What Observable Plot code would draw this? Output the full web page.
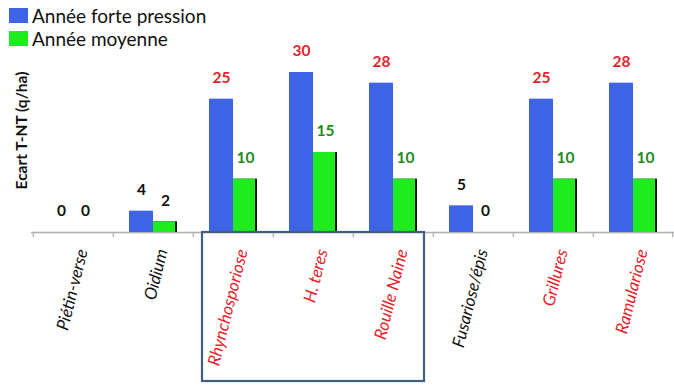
<!DOCTYPE html>
<html>
<head>
<meta charset="utf-8">
<script src="https://cdn.jsdelivr.net/npm/d3@7"></script>
<script src="https://cdn.jsdelivr.net/npm/@observablehq/plot@0.6"></script>
<style>
  html, body { margin: 0; padding: 0; background: #fff; }
  #wrap { position: relative; width: 674px; height: 388px; font-family: Lato, "Open Sans", sans-serif; }
  #legend { position: absolute; left: 0; top: 0; }
  .row { position: absolute; left: 9px; white-space: nowrap; font-size: 19px; color: #111; line-height: 19px; }
  .sw { position: absolute; left: 0; top: 0; width: 19px; height: 15px; }
  .lab { position: absolute; left: 23px; top: -2px; }
</style>
</head>
<body>
<div id="wrap">
  <div id="chart"></div>
  <div id="legend"></div>
</div>
<script>
const categories = ["Piétin-verse", "Oidium", "Rhynchosporiose", "H. teres", "Rouille Naine", "Fusariose/épis", "Grillures", "Ramulariose"];
const forte = [0, 4, 25, 30, 28, 5, 25, 28];
const moyenne = [0, 2, 10, 15, 10, 0, 10, 10];
const highlighted = [false, false, true, true, true, false, true, true];
const boxedFrom = "Rhynchosporiose";
const boxedTo = "Rouille Naine";
const seriesNames = ["Année forte pression", "Année moyenne"];

const BLUE = "#3d64e4";
const GREEN = "#1eec1e";
const RED = "#e5232b";
const DKGREEN = "#228b22";

const rows = categories.map((c, i) => ({cat: c, forte: forte[i], moyenne: moyenne[i], hl: highlighted[i]}));

const W = 674, H = 388, ML = 31, MR = 0, MT = 72, MB = 156;
const step = (W - ML - MR) / categories.length;

const boxMark = (index, scales, values, dims) => {
  const x = scales.x, y = scales.y;
  const x0 = x(boxedFrom) + 9;
  const x1 = x(boxedTo) + x.bandwidth() - 9;
  const y0 = y(0);
  const y1 = dims.height - 7;
  const r = document.createElementNS("http://www.w3.org/2000/svg", "rect");
  r.setAttribute("x", x0); r.setAttribute("y", y0);
  r.setAttribute("width", x1 - x0); r.setAttribute("height", y1 - y0);
  r.setAttribute("fill", "none"); r.setAttribute("stroke", "#41607f"); r.setAttribute("stroke-width", 2.2);
  return r;
};

const chart = Plot.plot({
  width: W, height: H,
  marginLeft: ML, marginRight: MR, marginTop: MT, marginBottom: MB,
  style: {fontFamily: "Lato, 'Open Sans', sans-serif", background: "white"},
  x: {type: "band", domain: categories, padding: 0, axis: null},
  y: {domain: [0, 30], axis: null},
  marks: [
    Plot.ruleY([0], {stroke: "#b0b0b0", strokeWidth: 1.5}),
    Plot.ruleX(categories, {x: d => d, y1: 0, y2: -1, dx: -step / 2, stroke: "#b0b0b0", strokeWidth: 1.2}),
    Plot.ruleX([categories[categories.length - 1]], {x: d => d, y1: 0, y2: -1, dx: step / 2 - 1, stroke: "#b0b0b0", strokeWidth: 1.2}),
    Plot.barY(rows, {x: "cat", y: "forte", fill: BLUE, insetLeft: 16, insetRight: 40}),
    Plot.barY(rows, {x: "cat", y: "moyenne", fill: "#111", insetLeft: 40, insetRight: 16}),
    Plot.barY(rows, {x: "cat", y: "moyenne", fill: GREEN, insetLeft: 40, insetRight: 18}),
    Plot.text(rows, {x: "cat", y: "forte", text: d => String(d.forte), dx: -12, dy: -21,
      fill: d => d.hl ? RED : "#111", fontWeight: "bold", fontSize: 15.5}),
    Plot.text(rows, {x: "cat", y: "moyenne", text: d => String(d.moyenne), dx: 12, dy: -21,
      fill: d => d.hl ? DKGREEN : "#111", fontWeight: "bold", fontSize: 15.5}),
    Plot.text(rows, {x: "cat", y: () => 0, text: "cat", rotate: -76, textAnchor: "end", dx: 9, dy: 17,
      fill: d => d.hl ? RED : "#111", fontWeight: d => d.hl ? "bold" : "normal", fontStyle: "italic", fontSize: 17}),
    Plot.text(["Ecart T-NT (q/ha)"], {frameAnchor: "left", textAnchor: "middle", rotate: -90, dx: -9, dy: -22,
      fill: "#111", fontWeight: "bold", fontSize: 15.5}),
    boxMark
  ]
});
document.getElementById("chart").appendChild(chart);

const legend = document.getElementById("legend");
[BLUE, GREEN].forEach((col, i) => {
  const row = document.createElement("div");
  row.className = "row";
  row.style.top = (8 + i * 23) + "px";
  row.innerHTML = `<span class="sw" style="background:${col}"></span><span class="lab">${seriesNames[i]}</span>`;
  legend.appendChild(row);
});
</script>
</body>
</html>
